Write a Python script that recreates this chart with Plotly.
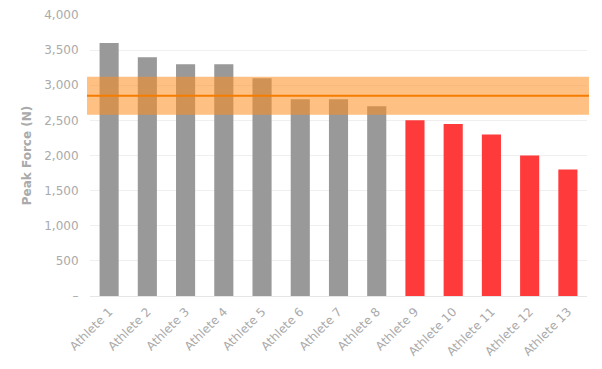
import plotly.graph_objects as go

athletes = [f"Athlete {i}" for i in range(1, 14)]
peak_force = [3600, 3400, 3300, 3300, 3100, 2800, 2800, 2700, 2500, 2450, 2300, 2000, 1800]
band_mean = 2850
band_low = 2580
band_high = 3120
y_ticks = [0, 500, 1000, 1500, 2000, 2500, 3000, 3500, 4000]
y_ticktext = ["–", "500", "1,000", "1,500", "2,000", "2,500", "3,000", "3,500", "4,000"]

colors = ["#999999" if v >= 2600 else "#ff3a3a" for v in peak_force]

fig = go.Figure()
fig.add_trace(go.Bar(x=athletes, y=peak_force, marker=dict(color=colors, line=dict(width=0)),
                     showlegend=False))

fig.add_shape(type="rect", xref="paper", yref="y", x0=-0.006, x1=1.004, y0=band_low, y1=band_high,
              fillcolor="rgba(255,140,30,0.55)", line=dict(width=0), layer="above")
fig.add_shape(type="line", xref="paper", yref="y", x0=-0.006, x1=1.004, y0=band_mean, y1=band_mean,
              line=dict(color="#f57c00", width=2), layer="above")

fig.update_layout(
    width=602, height=369,
    margin=dict(l=82, r=23, t=7, b=81, autoexpand=False),
    plot_bgcolor="white", paper_bgcolor="white",
    bargap=0.5,
    font=dict(family="DejaVu Sans", color="#aaaaaa", size=12),
)
fig.update_xaxes(tickangle=-45, showgrid=False, showline=True, linecolor="#e6e6e6",
                 tickfont=dict(size=12, color="#aaaaaa"), ticks="outside", ticklen=3,
                 tickcolor="rgba(0,0,0,0)", automargin=False)
fig.update_yaxes(range=[0, 4000], tickvals=y_ticks, ticktext=y_ticktext, showgrid=True,
                 gridcolor="#efefef", zeroline=False, ticks="outside", ticklen=8,
                 tickcolor="rgba(0,0,0,0)", automargin=False,
                 tickfont=dict(size=12, color="#aaaaaa"),
                 title=dict(text="<b>Peak Force (N)</b>", font=dict(size=12, color="#aaaaaa"), standoff=10))

fig.write_html("out.html")
